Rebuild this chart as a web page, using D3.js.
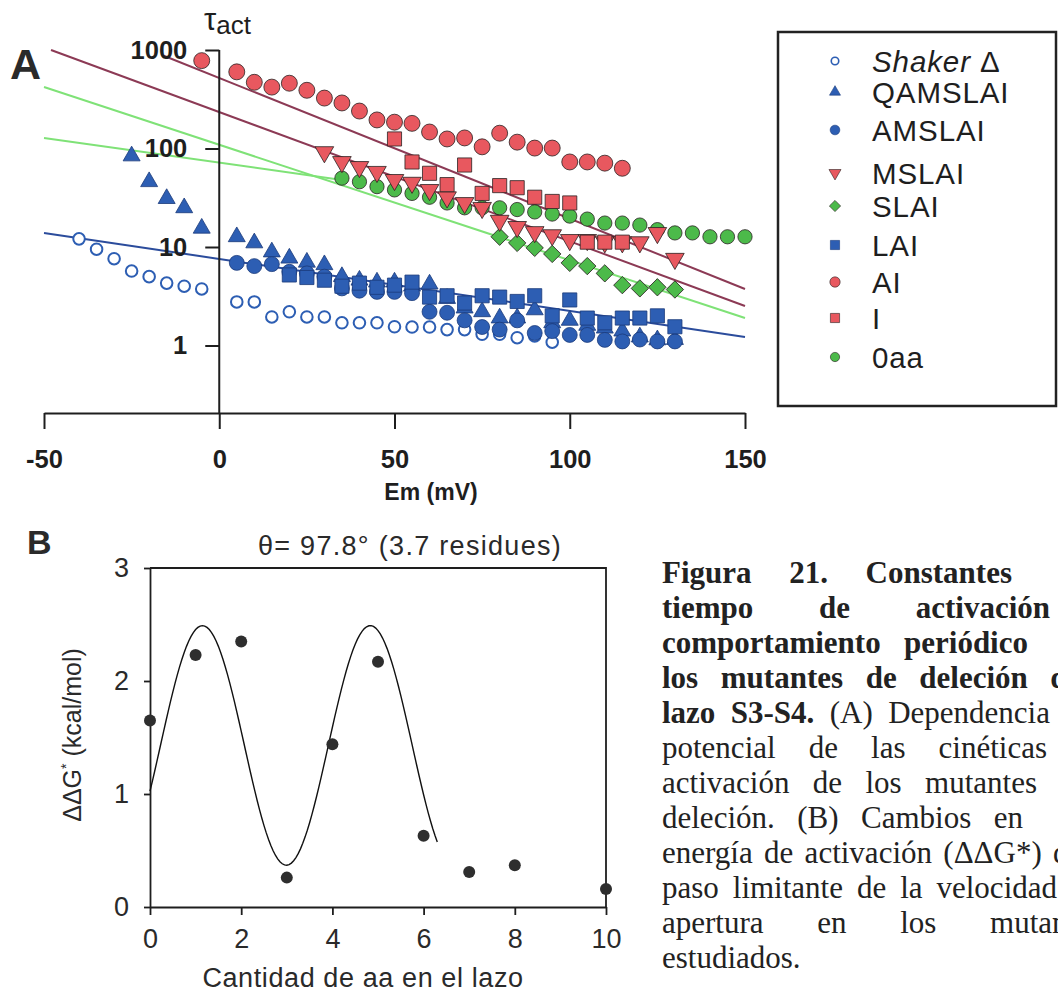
<!DOCTYPE html>
<html>
<head>
<meta charset="utf-8">
<script src="https://cdn.jsdelivr.net/npm/d3@7"></script>
<style>
  html, body { margin: 0; padding: 0; background: #fff; overflow: hidden; }
  svg { display: block; position: absolute; left: 0; top: 0; }
</style>
</head>
<body>
<svg id="fig" width="1058" height="1008"></svg>
<script>
// ---------- Panel A: activation time constant (τact) vs membrane potential ----------
// Each series: [Em (mV), τact]
const shakerDelta = [[-40,12.1],[-35,9.5],[-30,7.6],[-25,5.7],[-20,5.0],[-15,4.3],[-10,4.0],[-5,3.75],
  [5,2.77],[10,2.77],[15,1.95],[20,2.2],[25,1.95],[30,1.95],[35,1.7],[40,1.7],[45,1.7],[50,1.55],
  [55,1.54],[60,1.54],[65,1.45],[70,1.45],[75,1.3],[80,1.3],[85,1.2],[90,1.25],[95,1.08]];
const qamslai = [[-25,84],[-20,46],[-15,31],[-10,25],[-5,15.5],[5,12.7],[10,11],[15,8.9],[20,7.7],
  [25,7.0],[30,6.6],[35,5.0],[40,4.6],[45,4.4],[50,4.4],[55,4.0],[60,4.2],[65,3.0],[70,2.4],[75,2.2],
  [80,1.9],[85,1.9],[90,2.3],[95,1.7],[100,1.8],[105,1.6],[110,1.5],[115,1.4],[120,1.22],[125,1.14],[130,1.15]];
const amslai = [[5,6.9],[10,6.4],[15,6.7],[20,5.6],[25,5.4],[30,5.0],[35,3.8],[40,3.6],[45,3.5],[50,3.5],
  [55,3.4],[60,2.2],[65,2.15],[70,1.8],[75,1.54],[80,1.45],[85,1.8],[90,1.34],[95,1.4],[100,1.28],
  [105,1.28],[110,1.14],[115,1.1],[120,1.15],[125,1.1],[130,1.1]];
const mslai = [[30,92],[35,73],[40,65],[45,58],[50,48],[55,45],[60,38],[65,32],[70,28],[75,25],[80,18.5],
  [85,16],[90,14.2],[95,13.2],[100,11.8],[105,11.8],[110,11.2],[115,11.2],[120,11.2],[125,13.9],[130,7.6]];
const slai = [[80,12.7],[85,11],[90,9.8],[95,8.5],[100,6.9],[105,6.4],[110,5.4],[115,4.1],[120,3.8],[125,3.9],[130,3.7]];
const lai = [[20,5.2],[25,4.9],[30,4.6],[35,4.0],[40,4.3],[45,3.9],[50,4.1],[55,4.4],[60,3.1],[65,3.2],
  [70,2.7],[75,3.2],[80,3.1],[85,2.8],[90,3.2],[95,2.0],[100,2.9],[105,1.9],[110,1.7],[115,1.9],
  [120,1.9],[125,2.0],[130,1.55]];
const ai = [[-5,780],[5,600],[10,470],[15,420],[20,460],[25,390],[30,325],[35,290],[40,240],[45,195],
  [50,185],[55,180],[60,147],[65,125],[70,128],[75,104],[80,143],[85,116],[90,101],[95,101],
  [100,73],[105,73],[110,71],[115,63]];
const iOnly = [[50,125],[55,73],[60,56],[65,43],[70,68],[75,35],[80,42],[85,40],[90,32],[95,29],
  [100,28],[105,11.2],[110,11.2],[115,11.2]];
const zeroAA = [[35,50],[40,46],[45,41],[50,38],[55,35],[60,32],[65,28],[70,25],[75,25],[80,25],
  [85,24],[90,22.7],[95,21.6],[100,20.6],[105,19.2],[110,17.5],[115,17.5],[120,16.7],[125,15],
  [130,13.9],[135,13.9],[140,12.7],[145,12.7],[150,12.7]];

// Exponential fits (straight on the log axis): end points [Em, τact]
const fitBlue = [[-50,13.9],[150,1.22]];
const fitRedUpper = [[-16,880],[150,3.75]];
const fitRedLower = [[-48,1000],[150,2.52]];
const fitGreenUpper = [[-50,421],[150,1.9]];
const fitGreenLower = [[-50,128],[35,48]];

const xTicksA = [-50, 0, 50, 100, 150];
const yTicksA = [1, 10, 100, 1000];

// ---------- Panel B: ΔΔG* vs number of residues in the loop ----------
const aaCount = [0, 1, 2, 3, 4, 5, 6, 7, 8, 10];
const ddG = [1.65, 2.23, 2.35, 0.26, 1.44, 2.17, 0.63, 0.31, 0.37, 0.16];
const helixTheta = 97.8;       // degrees per residue of the periodic fit
const fitMean = 1.43, fitAmp = 1.06, fitPeakAt = 1.15, fitEndAt = 6.3;
const xTicksB = [0, 2, 4, 6, 8, 10];
const yTicksB = [0, 1, 2, 3];

// ---------- Caption, one entry per printed line: [text, bold] runs ----------
const captionLines = [
  [["Figura 21. Constantes", true]],
  [["tiempo de activación", true]],
  [["comportamiento periódico", true]],
  [["los mutantes de deleción del", true]],
  [["lazo S3-S4.", true], [" (A) Dependencia", false]],
  [["potencial de las cinéticas", false]],
  [["activación de los mutantes", false]],
  [["deleción. (B) Cambios en", false]],
  [["energía de activación (ΔΔG*) del", false]],
  [["paso limitante de la velocidad", false]],
  [["apertura en los mutantes", false]],
  [["estudiados.", false]]
];
// justified width of each caption line (px); the last line is set ragged
const captionLineWidth = [350, 388, 366, 428, 388, 385, 375, 361, 429, 395, 440, null];

// ---------- colours ----------
const BLUE = "#2d5eb3", BLUE_EDGE = "#1a3a7a";
const RED = "#e8585f", GREEN = "#4cba4a", EDGE = "#2a2222";
const INK = "#1e1e1e";
const SANS = "'Liberation Sans', Arial, Helvetica, sans-serif";
const plain = d => String(d);   // ASCII hyphen for negatives

const svg = d3.select("#fig");

// ---------- Panel A ----------
const xA = d3.scaleLinear().domain([-50, 150]).range([44, 745]);
const yA = d3.scaleLog().domain([1, 1000]).range([345.5, 50]);
const axisYA = 413;          // baseline of the x axis
const yAxisX = xA(0);

const gA = svg.append("g");

// fit lines
const lineA = d3.line().x(d => xA(d[0])).y(d => yA(d[1]));
[[fitBlue, "#2b4c9c"], [fitRedUpper, "#8c3a55"], [fitRedLower, "#8c3a55"],
 [fitGreenUpper, "#7fe277"], [fitGreenLower, "#7fe277"]].forEach(([pts, col]) => {
  gA.append("path").attr("d", lineA(pts)).attr("fill", "none")
    .attr("stroke", col).attr("stroke-width", 2);
});

// series definitions
const seriesA = [
  { label: "Shaker Δ", data: shakerDelta, type: d3.symbolCircle, size: 105, rot: 0, fill: "#fff", stroke: BLUE, sw: 2 },
  { label: "QAMSLAI", data: qamslai, type: d3.symbolTriangle, size: 125, rot: 0, fill: BLUE, stroke: BLUE_EDGE, sw: 0.8 },
  { label: "AMSLAI", data: amslai, type: d3.symbolCircle, size: 175, rot: 0, fill: BLUE, stroke: BLUE_EDGE, sw: 0.8 },
  { label: "MSLAI", data: mslai, type: d3.symbolTriangle, size: 150, rot: 180, fill: RED, stroke: EDGE, sw: 0.8 },
  { label: "SLAI", data: slai, type: d3.symbolSquare, size: 150, rot: 45, fill: GREEN, stroke: EDGE, sw: 0.8 },
  { label: "LAI", data: lai, type: d3.symbolSquare, size: 200, rot: 0, fill: BLUE, stroke: BLUE_EDGE, sw: 0.8 },
  { label: "AI", data: ai, type: d3.symbolCircle, size: 200, rot: 0, fill: RED, stroke: EDGE, sw: 0.8 },
  { label: "I", data: iOnly, type: d3.symbolSquare, size: 200, rot: 0, fill: RED, stroke: EDGE, sw: 0.8 },
  { label: "0aa", data: zeroAA, type: d3.symbolCircle, size: 160, rot: 0, fill: GREEN, stroke: EDGE, sw: 0.8 }
];

const drawOrder = ["Shaker Δ", "QAMSLAI", "AMSLAI", "LAI", "0aa", "SLAI", "MSLAI", "AI", "I"];
drawOrder.forEach(name => {
  const s = seriesA.find(d => d.label === name);
  gA.append("g").selectAll("path").data(s.data).join("path")
    .attr("d", d3.symbol().type(s.type).size(s.size))
    .attr("transform", d => `translate(${xA(d[0])},${yA(d[1])}) rotate(${s.rot})`)
    .attr("fill", s.fill).attr("stroke", s.stroke).attr("stroke-width", s.sw);
});

// axes
const xAxisA = gA.append("g").attr("transform", `translate(0,${axisYA})`)
  .call(d3.axisBottom(xA).tickValues(xTicksA).tickFormat(plain)
    .tickSizeInner(16).tickSizeOuter(0).tickPadding(21));
const yAxisA = gA.append("g").attr("transform", `translate(${yAxisX},0)`)
  .call(d3.axisLeft(yA).tickValues(yTicksA).tickFormat(plain)
    .tickSizeInner(14).tickSizeOuter(0).tickPadding(18));
yAxisA.select(".domain").attr("d", `M0,${yA(1000)}V${axisYA}`);
[xAxisA, yAxisA].forEach(ax => {
  ax.selectAll(".domain, .tick line").attr("stroke", INK).attr("stroke-width", 2);
  ax.selectAll("text").attr("fill", INK).attr("font-family", SANS)
    .attr("font-weight", "bold").attr("font-size", 25.5);
});

// titles
gA.append("text").attr("x", 10).attr("y", 79).attr("font-family", SANS)
  .attr("font-weight", "bold").attr("font-size", 43).attr("fill", "#2a2a2a").text("A");
const tau = gA.append("text").attr("x", 204).attr("y", 30).attr("font-family", SANS)
  .attr("fill", INK).attr("font-size", 31);
tau.append("tspan").text("τ");
tau.append("tspan").attr("font-size", 26).attr("dy", 4).text("act");
gA.append("text").attr("x", 431).attr("y", 500).attr("text-anchor", "middle")
  .attr("font-family", SANS).attr("font-weight", "bold").attr("font-size", 23)
  .attr("fill", INK).text("Em (mV)");

// legend
const legendRowY = [61, 92, 130, 173, 206, 245, 282, 318, 357];
const leg = svg.append("g");
leg.append("rect").attr("x", 778).attr("y", 32).attr("width", 278).attr("height", 374)
  .attr("fill", "#fff").attr("stroke", "#222").attr("stroke-width", 2.5);
seriesA.forEach((s, i) => {
  const y = legendRowY[i];
  leg.append("path").attr("d", d3.symbol().type(s.type).size(s.size * 0.42))
    .attr("transform", `translate(835,${y}) rotate(${s.rot})`)
    .attr("fill", s.fill).attr("stroke", s.stroke).attr("stroke-width", s.sw === 2 ? 1.6 : 0.6);
  const t = leg.append("text").attr("x", 872).attr("y", y).attr("dy", "0.36em")
    .attr("font-family", SANS).attr("font-size", 29.5).attr("letter-spacing", 0.9).attr("fill", INK);
  if (s.label.startsWith("Shaker")) {
    t.append("tspan").attr("font-style", "italic").text("Shaker");
    t.append("tspan").text(" Δ");
  } else {
    t.text(s.label);
  }
});

// ---------- Panel B ----------
const xB = d3.scaleLinear().domain([0, 10]).range([150, 606]);
const yB = d3.scaleLinear().domain([0, 3]).range([907, 568]);
const gB = svg.append("g");

// frame (top and right edges)
gB.append("path").attr("d", `M${xB(0)},${yB(3)}H${xB(10)}V${yB(0)}`)
  .attr("fill", "none").attr("stroke", INK).attr("stroke-width", 1.8);

const xAxisB = gB.append("g").attr("transform", `translate(0,${yB(0)})`)
  .call(d3.axisBottom(xB).tickValues(xTicksB).tickFormat(plain)
    .tickSizeInner(8).tickSizeOuter(0).tickPadding(14));
const yAxisB = gB.append("g").attr("transform", `translate(${xB(0)},0)`)
  .call(d3.axisLeft(yB).tickValues(yTicksB).tickFormat(plain)
    .tickSizeInner(6).tickSizeOuter(0).tickPadding(15));
[xAxisB, yAxisB].forEach(ax => {
  ax.selectAll(".domain, .tick line").attr("stroke", INK).attr("stroke-width", 1.8);
  ax.selectAll("text").attr("fill", "#2a2a2a").attr("font-family", SANS).attr("font-size", 27);
});

// periodic fit: ΔΔG* = mean + amp·cos(θ·(n − n_peak))
const fitCurve = d3.range(0, fitEndAt + 1e-9, 0.05).map(n =>
  [n, fitMean + fitAmp * Math.cos((n - fitPeakAt) * helixTheta * Math.PI / 180)]);
gB.append("path").attr("d", d3.line().x(d => xB(d[0])).y(d => yB(d[1]))(fitCurve))
  .attr("fill", "none").attr("stroke", "#111").attr("stroke-width", 1.4);

gB.append("g").selectAll("circle").data(aaCount.map((n, i) => [n, ddG[i]])).join("circle")
  .attr("cx", d => xB(d[0])).attr("cy", d => yB(d[1])).attr("r", 6).attr("fill", "#2e2e2e");

gB.append("text").attr("x", 27).attr("y", 554).attr("font-family", SANS)
  .attr("font-weight", "bold").attr("font-size", 34).attr("fill", "#2a2a2a").text("B");
gB.append("text").attr("x", 410).attr("y", 555).attr("text-anchor", "middle")
  .attr("font-family", SANS).attr("font-size", 27).attr("letter-spacing", 1.3).attr("fill", "#2a2a2a")
  .text(`θ= ${helixTheta}° (${(360 / helixTheta).toFixed(1)} residues)`);
const yl = gB.append("text").attr("transform", "translate(81,735) rotate(-90)")
  .attr("text-anchor", "middle").attr("font-family", SANS).attr("font-size", 25).attr("fill", "#2a2a2a");
yl.append("tspan").text("ΔΔG");
yl.append("tspan").attr("font-size", 14).attr("dy", -10).text("*");
yl.append("tspan").attr("dy", 10).text(" (kcal/mol)");
gB.append("text").attr("x", 363).attr("y", 987).attr("text-anchor", "middle")
  .attr("font-family", SANS).attr("font-size", 27).attr("letter-spacing", 0.6)
  .attr("fill", "#2a2a2a").text("Cantidad de aa en el lazo");

// ---------- Caption (justified lines; the column runs past the page edge) ----------
const capWrap = d3.select("body").append("div")
  .style("position", "absolute").style("left", "662px").style("top", "555px")
  .style("width", "396px").style("overflow", "hidden");
captionLines.forEach((runs, i) => {
  const w = captionLineWidth[i];
  const line = capWrap.append("div")
    .style("width", w ? `${w}px` : "auto").style("height", "35px").style("line-height", "35px")
    .style("font-family", "'Liberation Serif', 'Times New Roman', serif")
    .style("font-size", "31px").style("color", "#222")
    .style("text-align", w ? "justify" : "left")
    .style("text-align-last", w ? "justify" : "left");
  runs.forEach(([txt, bold]) => {
    line.append("span").style("font-weight", bold ? "bold" : "normal").text(txt);
  });
});
</script>
</body>
</html>
